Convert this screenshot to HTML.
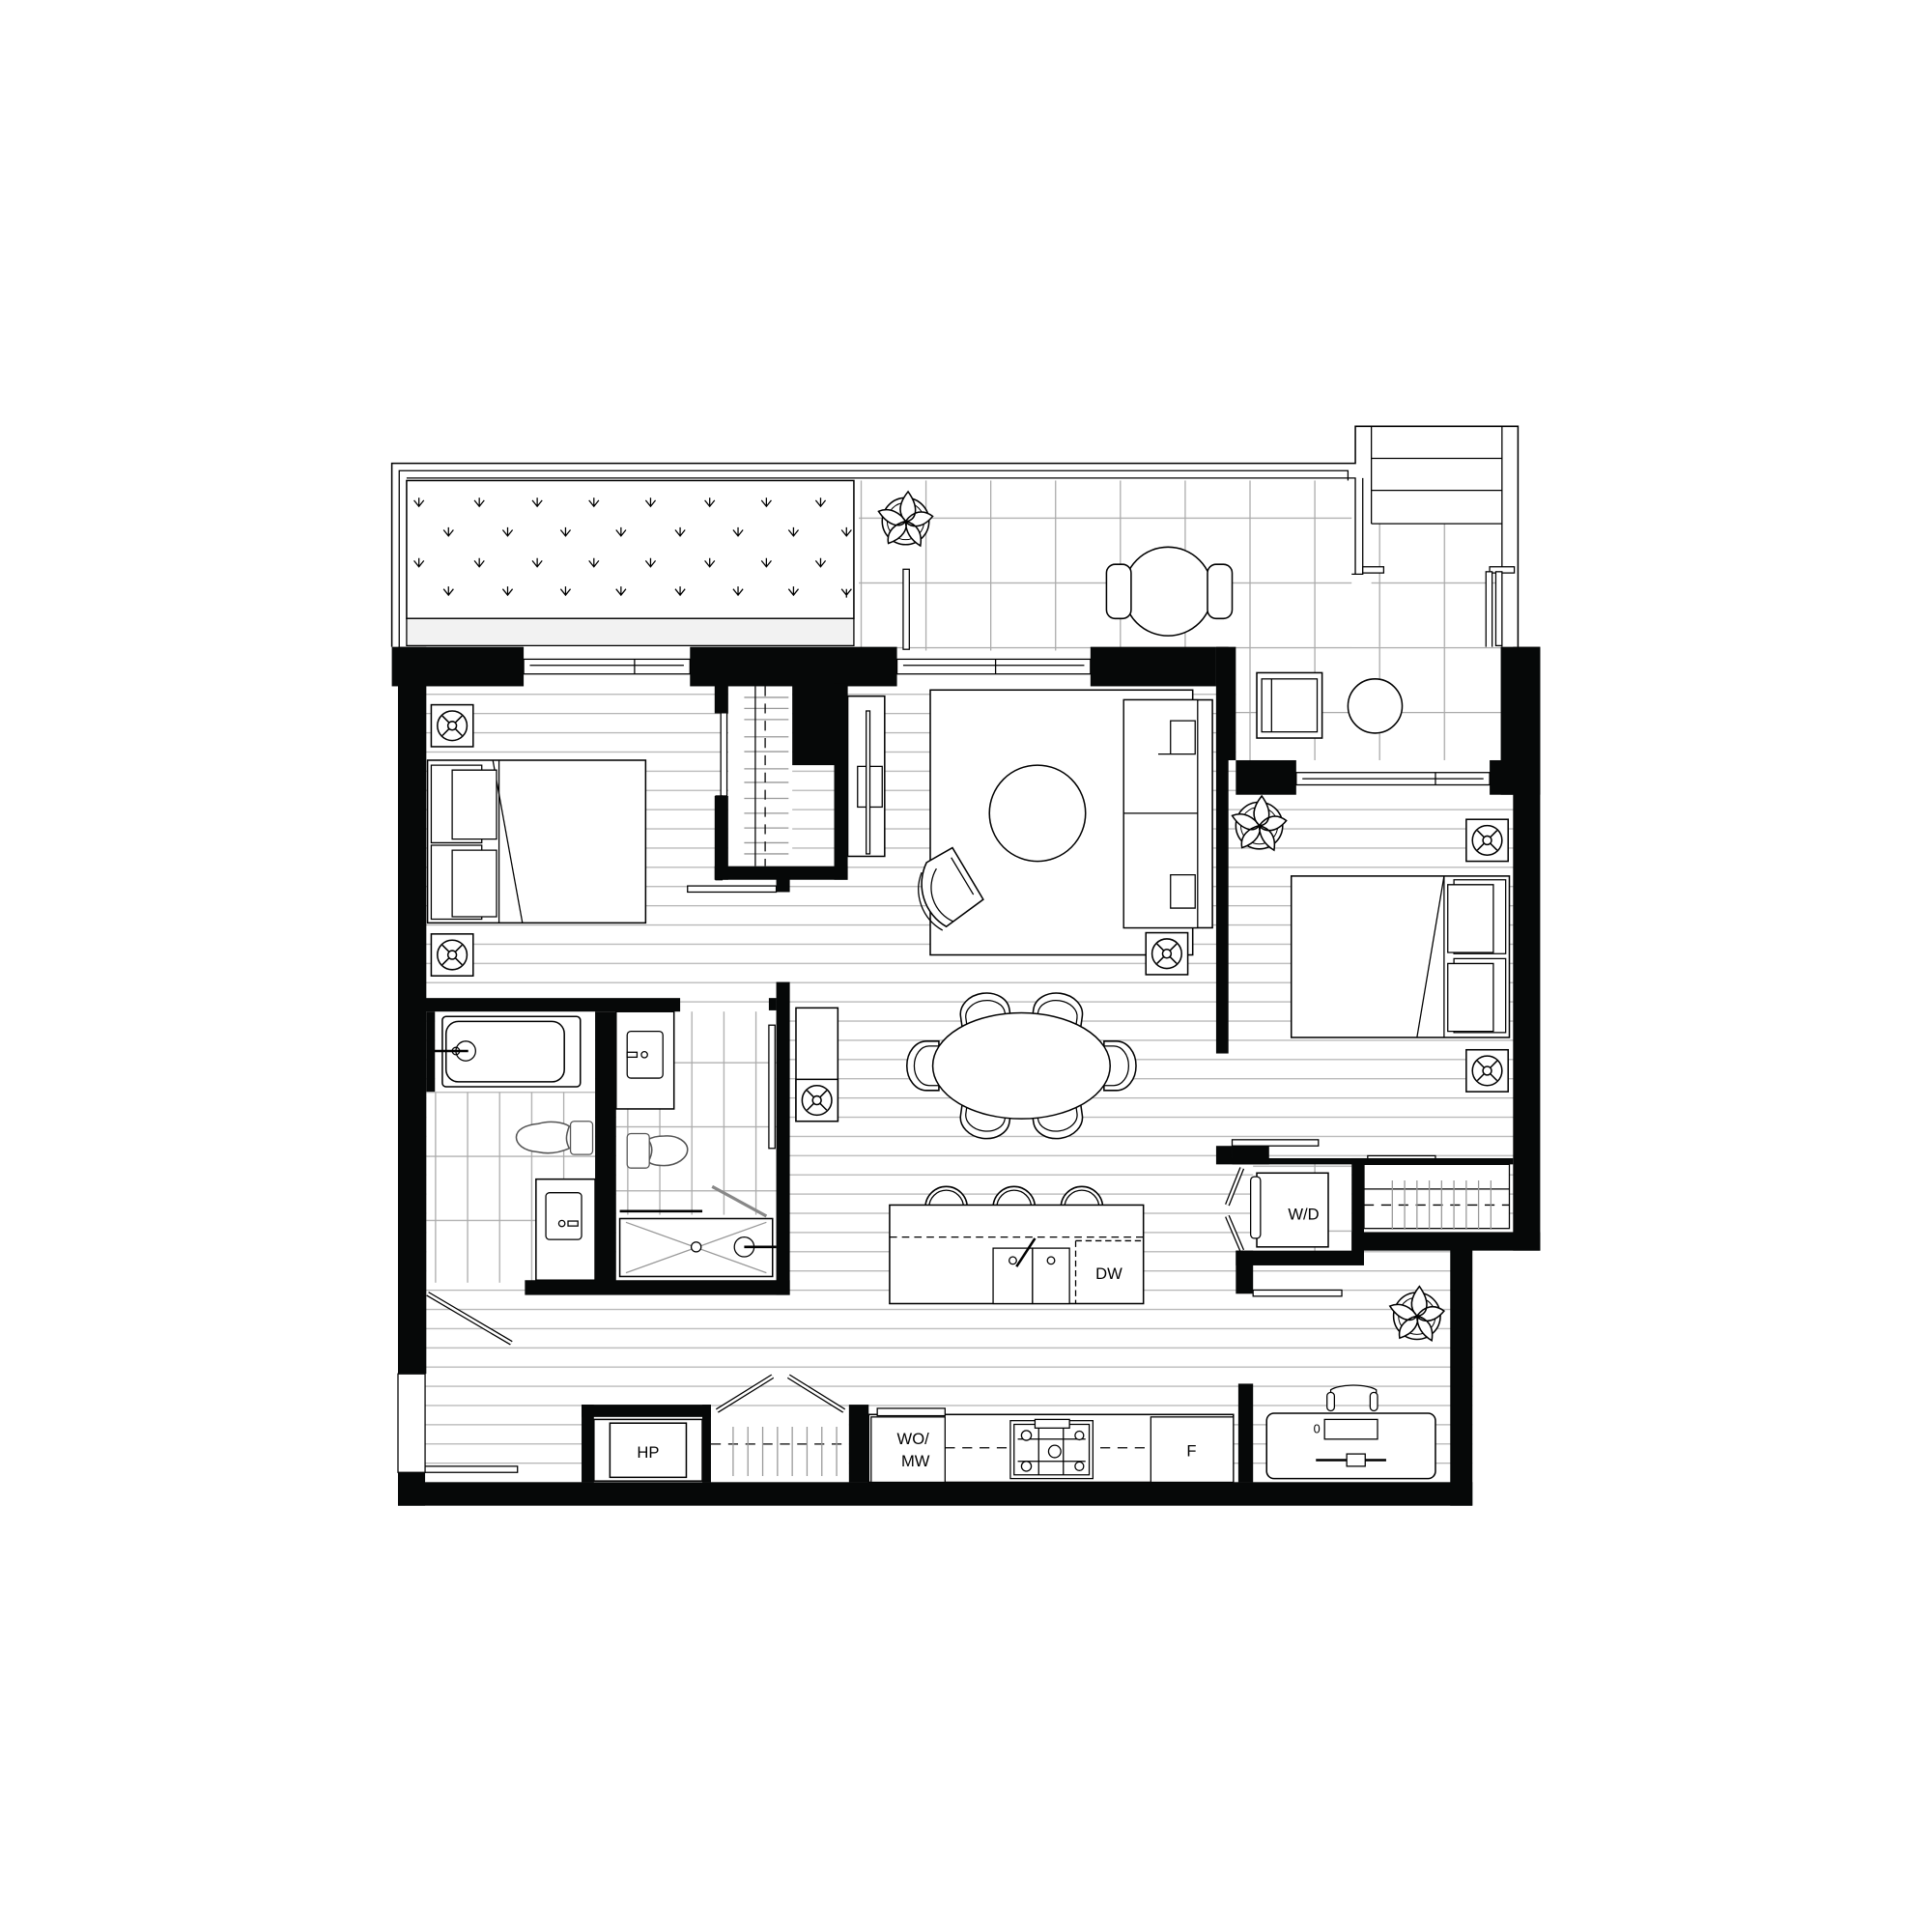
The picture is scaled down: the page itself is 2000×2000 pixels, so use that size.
<!DOCTYPE html>
<html><head><meta charset="utf-8"><style>html,body{margin:0;padding:0;background:#fff}svg{display:block}</style></head>
<body>
<svg width="2000" height="2000" viewBox="0 0 1568 1568" xmlns="http://www.w3.org/2000/svg" font-family="Liberation Sans, sans-serif">
<defs>
<pattern id="fl" width="10" height="15.6" patternUnits="userSpaceOnUse" y="563"><rect width="10" height="15.6" fill="#fff"/><line x1="0" y1="0.5" x2="10" y2="0.5" stroke="#b5b5b5" stroke-width="1"/></pattern>
<pattern id="tile" width="26" height="52" patternUnits="userSpaceOnUse" x="353" y="886"><rect width="26" height="52" fill="#fff"/><path d="M0 0.5H26M0.5 0V52" stroke="#aaa" stroke-width="1" fill="none"/></pattern>
<pattern id="tile2" width="26" height="52" patternUnits="userSpaceOnUse" x="509" y="862"><rect width="26" height="52" fill="#fff"/><path d="M0 0.5H26M0.5 0V52" stroke="#aaa" stroke-width="1" fill="none"/></pattern>
<pattern id="ptile" width="52.6" height="52.6" patternUnits="userSpaceOnUse" x="1014" y="420"><rect width="53" height="53" fill="#fff"/><path d="M0 0.5H53M0.5 0V53" stroke="#aaa" stroke-width="1" fill="none"/></pattern>
<g id="ns"><rect x="0" y="0" width="34" height="34" fill="#fff" stroke="#000" stroke-width="1.2"/><circle cx="17" cy="17" r="12" fill="none" stroke="#000" stroke-width="1.2"/><circle cx="17" cy="17" r="3.5" fill="#fff" stroke="#000" stroke-width="1.2"/><path d="M9 9L14.5 14.5M25 9L19.5 14.5M9 25L14.5 19.5M25 25L19.5 19.5" stroke="#000" stroke-width="1.2"/></g>
<g id="plant"><circle cx="0" cy="0" r="19" fill="#fff" stroke="#000" stroke-width="1.2"/><circle cx="0" cy="0" r="15" fill="none" stroke="#000" stroke-width="0.8"/><path d="M2 -24 C12 -10 8 0 0 0 C-6 -6 -6 -14 2 -24Z M22 -4 C12 8 2 4 0 0 C6 -8 14 -10 22 -4Z M12 20 C2 14 0 6 0 0 C8 2 14 8 12 20Z M-14 18 C-16 8 -8 2 0 0 C2 6 -2 14 -14 18Z M-22 -8 C-12 -12 -4 -6 0 0 C-4 6 -14 4 -22 -8Z" fill="#fff" stroke="#000" stroke-width="1.2"/></g>
<g id="chair"><path d="M-20 6 L-20 -4 A20 16 0 0 1 20 -4 L20 6 Z" fill="#fff" stroke="#000" stroke-width="1.2"/><path d="M-16 6 L-16 -2 A16 12 0 0 1 16 -2 L16 6" fill="none" stroke="#000" stroke-width="1"/></g>
<g id="stool"><path d="M-17 2 A17 17 0 0 1 17 2" fill="#fff" stroke="#000" stroke-width="1.2"/><path d="M-14 2 A14 14 0 0 1 14 2" fill="none" stroke="#000" stroke-width="1"/></g>
</defs>

<!-- balcony outer -->
<path d="M318 525V376H1100V346H1232V525" fill="#fff" stroke="#000" stroke-width="1.2"/>
<path d="M324 525V382H1094V466H1106" fill="none" stroke="#000" stroke-width="1"/>
<path d="M330 388H1100V466" fill="none" stroke="#000" stroke-width="1"/>
<rect x="697" y="390" width="400" height="138" fill="url(#ptile)"/>
<rect x="1113" y="425" width="106" height="100" fill="url(#ptile)"/>
<g stroke="#000" stroke-width="1"><path d="M1113 346V425M1219 346V525M1113 372H1219M1113 398H1219M1113 425H1219"/></g>
<path d="M1100 388V466H1106V388" fill="#fff" stroke="#000"/>
<rect x="1106" y="460" width="17" height="5" fill="#fff" stroke="#000"/>
<rect x="1209" y="460" width="20" height="5" fill="#fff" stroke="#000"/>
<rect x="1214" y="464" width="5" height="60" fill="#fff" stroke="#000"/>
<rect x="1206" y="464" width="5" height="80" fill="#fff" stroke="#000"/>
<rect x="733" y="462" width="5" height="65" fill="#fff" stroke="#000"/>
<!-- planter -->
<rect x="330" y="390" width="363" height="112" fill="#fff" stroke="#000" stroke-width="1.2"/>
<rect x="330" y="502" width="363" height="22" fill="#f2f2f2" stroke="#000" stroke-width="1"/>
<g stroke="#000" stroke-width="1" fill="none">
<path d="M336 406l4 5 4-5M340 404v7M385 406l4 5 4-5M389 404v7M432 406l4 5 4-5M436 404v7M478 406l4 5 4-5M482 404v7M524 406l4 5 4-5M528 404v7M572 406l4 5 4-5M576 404v7M618 406l4 5 4-5M622 404v7M662 406l4 5 4-5M666 404v7"/>
<path d="M360 430l4 5 4-5M364 428v7M408 430l4 5 4-5M412 428v7M455 430l4 5 4-5M459 428v7M500 430l4 5 4-5M504 428v7M548 430l4 5 4-5M552 428v7M595 430l4 5 4-5M599 428v7M640 430l4 5 4-5M644 428v7M683 430l4 5 4-5M687 428v7"/>
<path d="M336 455l4 5 4-5M340 453v7M385 455l4 5 4-5M389 453v7M432 455l4 5 4-5M436 453v7M478 455l4 5 4-5M482 453v7M524 455l4 5 4-5M528 453v7M572 455l4 5 4-5M576 453v7M618 455l4 5 4-5M622 453v7M662 455l4 5 4-5M666 453v7"/>
<path d="M360 478l4 5 4-5M364 476v7M408 478l4 5 4-5M412 476v7M455 478l4 5 4-5M459 476v7M500 478l4 5 4-5M504 476v7M548 478l4 5 4-5M552 476v7M595 478l4 5 4-5M599 476v7M640 478l4 5 4-5M644 476v7M683 478l4 5 4-5M687 478v7"/>
</g>
<use href="#plant" x="735" y="423"/>
<!-- patio table -->
<circle cx="948" cy="480" r="36" fill="#fff" stroke="#000" stroke-width="1.2"/>
<rect x="898" y="458" width="20" height="44" rx="7" fill="#fff" stroke="#000" stroke-width="1.2"/>
<rect x="980" y="458" width="20" height="44" rx="7" fill="#fff" stroke="#000" stroke-width="1.2"/>

<!-- floor -->
<rect x="345" y="557" width="885" height="650" fill="url(#fl)"/>
<rect x="1195" y="1015" width="45" height="200" fill="#fff"/>
<rect x="1003" y="525" width="216" height="92" fill="url(#ptile)"/>
<rect x="1003" y="617" width="216" height="28" fill="#fff"/>
<rect x="1020" y="546" width="53" height="53" fill="#fff" stroke="#000" stroke-width="1.2"/>
<rect x="1024" y="551" width="45" height="43" fill="#fff" stroke="#000" stroke-width="1"/>
<line x1="1032" y1="551" x2="1032" y2="594" stroke="#000"/>
<circle cx="1116" cy="573" r="22" fill="#fff" stroke="#000" stroke-width="1.2"/>

<!-- bathrooms -->
<rect x="346" y="886" width="137" height="155" fill="url(#tile)"/>
<rect x="500" y="821" width="130" height="165" fill="url(#tile2)"/>
<rect x="353" y="821" width="130" height="65" fill="#fff"/>
<rect x="359" y="825" width="112" height="57" rx="3" fill="#fff" stroke="#000" stroke-width="1.2"/>
<rect x="362" y="829" width="96" height="49" rx="10" fill="#fff" stroke="#000" stroke-width="1.2"/>
<circle cx="378" cy="853" r="8" fill="none" stroke="#000"/><circle cx="370" cy="853" r="3" fill="none" stroke="#000"/><line x1="350" y1="853" x2="380" y2="853" stroke="#000" stroke-width="2"/>
<path d="M437 912 C447 909 457 911 462 914 C459 922 459 926 462 932 C455 935 446 937 437 935 C424 934 419 928 419 923 C419 917 426 913 437 912Z" fill="#fff" stroke="#555" stroke-width="1.2"/>
<rect x="463" y="910" width="18" height="27" rx="3" fill="#fff" stroke="#555"/>
<rect x="435" y="957" width="48" height="82" fill="#fff" stroke="#000" stroke-width="1.2"/><rect x="443" y="968" width="29" height="38" rx="3" fill="#fff" stroke="#000"/><circle cx="456" cy="993" r="2.5" fill="none" stroke="#000"/><rect x="461" y="991" width="8" height="4" fill="#fff" stroke="#000"/>
<rect x="500" y="821" width="47" height="79" fill="#fff" stroke="#000" stroke-width="1.2"/><rect x="509" y="837" width="29" height="38" rx="3" fill="#fff" stroke="#000"/><circle cx="523" cy="856" r="2.5" fill="none" stroke="#000"/><rect x="509" y="854" width="8" height="4" fill="#fff" stroke="#000"/>
<path d="M539 922 C550 921 558 927 558 933 C558 940 549 946 539 946 C530 946 528 944 526 943 C530 936 530 930 526 925 C529 923 533 922 539 922Z" fill="#fff" stroke="#555" stroke-width="1.2"/>
<rect x="509" y="920" width="18" height="28" rx="3" fill="#fff" stroke="#555"/>
<rect x="500" y="986" width="130" height="53" fill="#fff"/>
<rect x="503" y="989" width="124" height="47" fill="#fff" stroke="#000" stroke-width="1.2"/>
<path d="M508 992L622 1033M622 992L508 1033" stroke="#999"/>
<circle cx="565" cy="1012" r="4" fill="#fff" stroke="#000"/><circle cx="604" cy="1012" r="8" fill="#fff" stroke="#000"/><line x1="604" y1="1012" x2="630" y2="1012" stroke="#000" stroke-width="2"/>
<line x1="503" y1="983" x2="570" y2="983" stroke="#000" stroke-width="2"/>
<line x1="578" y1="963" x2="622" y2="987" stroke="#888" stroke-width="2.5"/>
<rect x="624" y="832" width="5" height="100" fill="#fff" stroke="#000"/>

<!-- bedroom 1 closet -->
<rect x="591" y="557" width="52" height="146" fill="#fff"/>
<g stroke="#999" stroke-width="1"><path d="M604 566h36M604 575h36M604 584h36M604 598h36M604 610h36M604 624h36M604 635h36M604 648h36M604 660h36M604 672h36M604 684h36M604 693h36"/></g>
<line x1="621" y1="557" x2="621" y2="703" stroke="#000" stroke-dasharray="8 6"/>
<line x1="613" y1="557" x2="613" y2="703" stroke="#000"/>
<rect x="585" y="578" width="5" height="68" fill="#fff" stroke="#000"/>
<rect x="581" y="646" width="5" height="68" fill="#fff" stroke="#000"/>
<rect x="558" y="719" width="72" height="5" fill="#fff" stroke="#000"/>

<!-- bedroom 1 -->
<use href="#ns" x="350" y="572"/>
<use href="#ns" x="350" y="758"/>
<rect x="347" y="617" width="177" height="132" fill="#fff" stroke="#000" stroke-width="1.2"/>
<line x1="405" y1="617" x2="405" y2="749" stroke="#000"/>
<line x1="400" y1="617" x2="424" y2="749" stroke="#000"/>
<path d="M350 621h41v63h-41zM350 686h41v60h-41z" fill="#fff" stroke="#000"/>
<path d="M367 625h36v56h-36zM367 690h36v54h-36z" fill="#fff" stroke="#000"/>

<!-- living -->
<rect x="688" y="565" width="30" height="130" fill="#fff" stroke="#000" stroke-width="1.2"/>
<rect x="696" y="622" width="20" height="33" fill="#fff" stroke="#000"/><rect x="703" y="577" width="3" height="116" fill="#fff" stroke="#000"/>
<rect x="755" y="560" width="213" height="215" fill="#fff" stroke="#000" stroke-width="1.2"/>
<circle cx="842" cy="660" r="39" fill="#fff" stroke="#000" stroke-width="1.2"/>
<rect x="912" y="568" width="72" height="185" fill="#fff" stroke="#000" stroke-width="1.2"/>
<rect x="912" y="568" width="60" height="185" fill="#fff" stroke="#000"/><line x1="912" y1="660" x2="972" y2="660" stroke="#000"/>
<path d="M950 585h20v27h-20zM940 612l30 0" fill="#fff" stroke="#000"/>
<path d="M950 710h20v27h-20z" fill="#fff" stroke="#000"/>
<path d="M752 700 L773 688 L798 730 L768 752 A40 40 0 0 1 752 700Z" fill="#fff" stroke="#000" stroke-width="1.2"/>
<path d="M772 696 L790 726 M760 705 A30 30 0 0 0 774 748" fill="none" stroke="#000"/>
<path d="M748 708 A38 38 0 0 0 765 755" fill="none" stroke="#000"/>
<use href="#ns" x="930" y="757"/>
<!-- dining -->
<g transform="translate(800 826) rotate(-8)"><use href="#chair"/></g>
<g transform="translate(858 826) rotate(8)"><use href="#chair"/></g>
<g transform="translate(800 904) rotate(188)"><use href="#chair"/></g>
<g transform="translate(858 904) rotate(172)"><use href="#chair"/></g>
<g transform="translate(756 865) rotate(-90)"><use href="#chair"/></g>
<g transform="translate(902 865) rotate(90)"><use href="#chair"/></g>
<ellipse cx="829" cy="865" rx="72" ry="43" fill="#fff" stroke="#000" stroke-width="1.2"/>
<rect x="646" y="818" width="34" height="92" fill="#fff" stroke="#000" stroke-width="1.2"/>
<use href="#ns" x="646" y="876"/>

<!-- bedroom 2 -->
<use href="#plant" x="1022" y="670"/>
<use href="#ns" x="1190" y="665"/>
<use href="#ns" x="1190" y="852"/>
<rect x="1048" y="711" width="177" height="131" fill="#fff" stroke="#000" stroke-width="1.2"/>
<line x1="1172" y1="711" x2="1172" y2="842" stroke="#000"/>
<line x1="1172" y1="711" x2="1150" y2="842" stroke="#000"/>
<path d="M1180 714h42v60h-42zM1180 778h42v60h-42z" fill="#fff" stroke="#000"/>
<path d="M1175 718h37v55h-37zM1175 782h37v55h-37z" fill="#fff" stroke="#000"/>

<!-- laundry & closet -->
<rect x="1017" y="945" width="80" height="75" fill="url(#ptile)"/>
<rect x="1020" y="952" width="58" height="60" fill="#fff" stroke="#000" stroke-width="1.2"/>
<rect x="1015" y="955" width="8" height="50" rx="3" fill="#fff" stroke="#000"/>
<text x="1058" y="990" font-size="13" text-anchor="middle">W/D</text>
<path d="M1008 948l-12 30M996 987l12 28" stroke="#000" stroke-width="4"/><path d="M1008 948l-12 30M996 987l12 28" stroke="#fff" stroke-width="2"/>
<rect x="1107" y="945" width="118" height="52" fill="#fff" stroke="#000"/>
<line x1="1107" y1="965" x2="1225" y2="965" stroke="#000"/>
<line x1="1107" y1="978" x2="1225" y2="978" stroke="#000" stroke-dasharray="8 6"/>
<g stroke="#999"><path d="M1130 958v40M1140 958v40M1150 958v40M1160 958v40M1170 958v40M1180 958v40M1190 958v40M1200 958v40M1210 958v40"/></g>
<rect x="1000" y="925" width="70" height="5" fill="#fff" stroke="#000"/>
<rect x="1110" y="938" width="55" height="4" fill="#fff" stroke="#000"/>

<!-- kitchen island -->
<use href="#stool" x="768" y="978"/><use href="#stool" x="823" y="978"/><use href="#stool" x="878" y="978"/>
<rect x="722" y="978" width="206" height="80" fill="#fff" stroke="#000" stroke-width="1.2"/>
<line x1="722" y1="1004" x2="928" y2="1004" stroke="#000" stroke-dasharray="6 4"/>
<rect x="806" y="1013" width="32" height="45" fill="#fff" stroke="#000"/><rect x="838" y="1013" width="30" height="45" fill="#fff" stroke="#000"/>
<line x1="840" y1="1005" x2="825" y2="1028" stroke="#000" stroke-width="2"/>
<circle cx="822" cy="1023" r="3" fill="none" stroke="#000"/><circle cx="853" cy="1023" r="3" fill="none" stroke="#000"/>
<line x1="873" y1="1007" x2="873" y2="1058" stroke="#000" stroke-dasharray="5 3"/>
<line x1="873" y1="1007" x2="926" y2="1007" stroke="#000" stroke-dasharray="5 3"/>
<text x="900" y="1038" font-size="13" text-anchor="middle">DW</text>
<use href="#plant" x="1150" y="1068"/>
<rect x="1017" y="1047" width="72" height="5" fill="#fff" stroke="#000"/>

<!-- bottom row -->
<rect x="482" y="1152" width="88" height="50" fill="#fff" stroke="#000" stroke-width="1.2"/>
<rect x="495" y="1155" width="62" height="44" fill="#fff" stroke="#000" stroke-width="1.2"/>
<text x="526" y="1183" font-size="13" text-anchor="middle">HP</text>
<rect x="577" y="1150" width="112" height="52" fill="#fff"/>
<line x1="577" y1="1172" x2="689" y2="1172" stroke="#000" stroke-dasharray="8 6"/>
<g stroke="#999"><path d="M595 1158v40M607 1158v40M619 1158v40M631 1158v40M643 1158v40M655 1158v40M667 1158v40M679 1158v40"/></g>
<path d="M582 1145l45-28M640 1117l45 28" stroke="#000" stroke-width="4"/><path d="M582 1145l45-28M640 1117l45 28" stroke="#fff" stroke-width="2"/>
<rect x="705" y="1148" width="296" height="55" fill="#fff" stroke="#000" stroke-width="1.2"/>
<rect x="712" y="1143" width="55" height="6" fill="#fff" stroke="#000"/>
<rect x="707" y="1150" width="60" height="53" fill="#fff" stroke="#000"/>
<text x="741" y="1172" font-size="13" text-anchor="middle">WO/</text><text x="743" y="1190" font-size="13" text-anchor="middle">MW</text>
<line x1="767" y1="1175" x2="935" y2="1175" stroke="#000" stroke-dasharray="8 6"/>
<rect x="820" y="1153" width="67" height="47" fill="#fff" stroke="#000"/>
<g stroke="#000" fill="#fff"><path d="M823 1156h61v41h-61zM843 1156v41M863 1156v41M826 1168h55M826 1186h55"/><circle cx="833" cy="1165" r="4"/><circle cx="876" cy="1165" r="3.5"/><circle cx="856" cy="1178" r="5"/><circle cx="833" cy="1190" r="4"/><circle cx="876" cy="1190" r="3.5"/></g>
<rect x="840" y="1152" width="28" height="7" fill="#fff" stroke="#000"/>
<rect x="934" y="1150" width="67" height="53" fill="#fff" stroke="#000"/>
<text x="967" y="1182" font-size="13" text-anchor="middle">F</text>
<rect x="1028" y="1147" width="137" height="53" rx="6" fill="#fff" stroke="#000" stroke-width="1.2"/>
<rect x="1075" y="1152" width="43" height="16" fill="#fff" stroke="#000"/>
<path d="M1080 1140v-12a20 6 0 0 1 37 0v12" fill="#fff" stroke="#000"/><rect x="1077" y="1130" width="6" height="15" rx="3" fill="#fff" stroke="#000"/><rect x="1112" y="1130" width="6" height="15" rx="3" fill="#fff" stroke="#000"/>
<line x1="1068" y1="1185" x2="1125" y2="1185" stroke="#000" stroke-width="2"/><rect x="1093" y="1180" width="15" height="10" fill="#fff" stroke="#000"/>
<text x="1066" y="1163" font-size="10">0</text>
<!-- entry doors -->
<path d="M347 1050 L415 1090" stroke="#000" stroke-width="4"/><path d="M347 1050 L415 1090" stroke="#fff" stroke-width="2"/>
<rect x="342" y="1190" width="78" height="5" fill="#fff" stroke="#000"/>
<rect x="323" y="1115" width="22" height="80" fill="#fff" stroke="#000"/>

<!-- walls -->
<g fill="#060808">
<rect x="318" y="525" width="107" height="32"/>
<rect x="323" y="525" width="23" height="590"/>
<rect x="323" y="1195" width="22" height="27"/>
<rect x="323" y="1203" width="872" height="19"/>
<rect x="560" y="525" width="168" height="32"/>
<rect x="580" y="555" width="11" height="24"/>
<rect x="643" y="555" width="45" height="66"/>
<rect x="677" y="555" width="11" height="159"/>
<rect x="580" y="703" width="108" height="11"/>
<rect x="580" y="646" width="11" height="68"/>
<rect x="630" y="712" width="11" height="12"/>
<rect x="885" y="525" width="102" height="32"/>
<rect x="987" y="525" width="16" height="92"/>
<rect x="987" y="525" width="10" height="330"/>
<rect x="1003" y="617" width="49" height="28"/>
<rect x="1209" y="617" width="19" height="28"/>
<rect x="1218" y="525" width="32" height="120"/>
<rect x="1228" y="525" width="22" height="490"/>
<rect x="1097" y="1000" width="153" height="15"/>
<rect x="1177" y="1000" width="18" height="222"/>
<rect x="987" y="930" width="13" height="15"/>
<rect x="1000" y="930" width="30" height="15"/>
<rect x="1000" y="940" width="228" height="5"/>
<rect x="1097" y="940" width="10" height="85"/>
<rect x="1003" y="1015" width="104" height="12"/>
<rect x="1003" y="1015" width="14" height="35"/>
<rect x="1005" y="1123" width="12" height="80"/>
<rect x="345" y="810" width="207" height="11"/>
<rect x="346" y="821" width="7" height="65"/>
<rect x="483" y="821" width="17" height="229"/>
<rect x="426" y="1039" width="215" height="12"/>
<rect x="630" y="797" width="11" height="254"/>
<rect x="624" y="810" width="6" height="10"/>
<rect x="472" y="1140" width="105" height="10"/>
<rect x="472" y="1140" width="10" height="63"/>
<rect x="570" y="1140" width="7" height="63"/>
<rect x="689" y="1140" width="16" height="63"/>
</g>
<!-- windows -->
<g fill="#fff" stroke="#000" stroke-width="1">
<rect x="425" y="535" width="135" height="12"/><line x1="430" y1="540" x2="555" y2="540"/><line x1="515" y1="535" x2="515" y2="547"/>
<rect x="728" y="535" width="157" height="12"/><line x1="733" y1="540" x2="880" y2="540"/><line x1="808" y1="535" x2="808" y2="547"/>
<rect x="1052" y="627" width="157" height="10"/><line x1="1057" y1="632" x2="1204" y2="632"/><line x1="1165" y1="627" x2="1165" y2="637"/>
</g>
</svg>
</body></html>
